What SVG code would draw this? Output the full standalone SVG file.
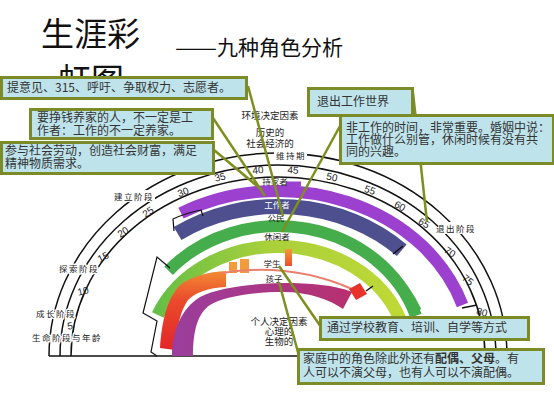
<svg xmlns="http://www.w3.org/2000/svg" width="554" height="416" viewBox="0 0 554 416">
<defs>
<style>
.box rect{fill:#bfe3eb;stroke:#7a8b27;stroke-width:3}
.bt{font-family:"Noto Sans CJK SC","Noto Sans",sans-serif;font-size:12px;fill:#333}
.arc{fill:none;stroke:#111;stroke-width:1.5}
.stage{font-family:"Noto Sans CJK SC",sans-serif;font-size:8.5px;fill:#222;letter-spacing:1.5px;text-anchor:middle;dominant-baseline:central}
.halo{paint-order:stroke;stroke:#fff;stroke-width:3px;stroke-linejoin:round}
.age{font-family:"Liberation Sans",sans-serif;font-size:10px;fill:#222;text-anchor:middle;dominant-baseline:central}
.role{font-family:"Noto Sans CJK SC",sans-serif;font-size:8.5px;fill:#222;text-anchor:middle;dominant-baseline:central}
.env{font-family:"Noto Sans CJK SC",sans-serif;font-size:9.5px;fill:#222;text-anchor:middle;dominant-baseline:central}
.conn line{stroke:#7f8f1f;stroke-width:2.5}
.band{fill:none}
.title{font-family:"Noto Sans CJK SC",sans-serif;fill:#111}
</style>
<linearGradient id="gLight" gradientUnits="userSpaceOnUse" x1="150" y1="0" x2="410" y2="0">
<stop offset="0" stop-color="#62bd47"/><stop offset="0.45" stop-color="#a9d03b"/><stop offset="1" stop-color="#c0d936"/>
</linearGradient>
<linearGradient id="gMag" gradientUnits="userSpaceOnUse" x1="172" y1="0" x2="352" y2="0">
<stop offset="0" stop-color="#9a3e9e"/><stop offset="1" stop-color="#b8306f"/>
</linearGradient>
<linearGradient id="gRed" gradientUnits="userSpaceOnUse" x1="0" y1="350" x2="0" y2="268">
<stop offset="0" stop-color="#e3262a"/><stop offset="0.6" stop-color="#ea4a2c"/><stop offset="1" stop-color="#f29034"/>
</linearGradient>
<linearGradient id="gBlk" x1="0" y1="1" x2="0" y2="0">
<stop offset="0" stop-color="#ea4f2a"/><stop offset="1" stop-color="#f39a3a"/>
</linearGradient>
</defs>

<!-- title -->
<g id="title">
<text class="title" x="41" y="46" font-size="33">生涯彩</text>
<text class="title" x="58" y="92" font-size="33">虹图</text>
<text class="title" x="175" y="55" font-size="21" textLength="42" lengthAdjust="spacingAndGlyphs">——</text>
<text class="title" x="217" y="55" font-size="21">九种角色分析</text>
</g>

<!-- outer stage/age arcs -->
<g id="stage-arcs">
<path class="arc" d="M49,356 A229,203 0 0 1 507,356"/>
<path class="arc" d="M60,356 A218,191 0 0 1 496,356"/>
<path class="arc" d="M71,356 A207,179 0 0 1 485,356"/>
<line x1="49" y1="356" x2="507" y2="356" stroke="#111" stroke-width="1.5"/>
</g>

<!-- bands -->
<g id="band-homemaker">
<path class="band" d="M181,213.1 A194,165 0 0 1 462.5,305" stroke="#9c40cf" stroke-width="12"/>
<path d="M286,186 L286,181.5 L301,181.5 L301,186 Z" fill="#9c40cf"/>
<line x1="462" y1="308" x2="477" y2="305" stroke="#111" stroke-width="1.5"/>
</g>
<g id="band-worker">
<path class="band" d="M177.6,233.5 A175,149.5 0 0 1 401.7,250.3" stroke="#4d4f8f" stroke-width="15"/>
<path d="M174,231 L173,219 Q186,213 201,210 L203,216" fill="none" stroke="#111" stroke-width="1.2"/>
<line x1="393" y1="254" x2="403" y2="246" stroke="#111" stroke-width="1.5"/>
</g>
<g id="band-citizen">
<path class="band" d="M168.6,270.7 A145,130 0 0 1 415.9,315.8" stroke="#45ad4b" stroke-width="12"/>
<path class="band" d="M389,269 A150,135 0 0 1 419,310" stroke="#45ad4b" stroke-width="5"/>
<path d="M170,268 L157,257 L143,313 L157,321 L151,352 L157,356" fill="none" stroke="#111" stroke-width="1.2"/>
</g>
<g id="band-leisure">
<path class="band" d="M157.9,315 A129.5,109.5 0 0 1 399.7,318.5" stroke="url(#gLight)" stroke-width="13"/>
</g>
<g id="band-student">
<path d="M160,348 C162,318 168,298 180,285 C192,276 208,272 226,271 L226,287 C208,288 196,292 188,300 C181,310 177,325 175,350 Z" fill="url(#gRed)"/>
<rect x="229" y="262" width="8" height="11" fill="#f39a3a"/>
<rect x="240" y="259" width="9" height="14" fill="#f39a3a"/>
<rect x="285" y="249" width="7" height="17" fill="url(#gBlk)"/>
<path d="M222,273 Q290,262 352,289" fill="none" stroke="#e9806e" stroke-width="2"/>
<path d="M349,289 L360,283 L367,294 L356,300 Z" fill="#e8332b"/>
<line x1="366" y1="291" x2="373" y2="286" stroke="#111" stroke-width="1.5"/>
</g>
<g id="band-child">
<path d="M172,356 C172,330 182,308 200,297 C220,287 250,284 283,283 C310,283 335,285 352,292 L343,309 C330,300 310,292 283,292 C255,292 225,296 210,305 C198,313 193,330 193,356 Z" fill="url(#gMag)"/>
</g>

<!-- stage labels -->
<g id="stage-labels">
<rect x="113" y="190" width="42" height="12" fill="#fff"/>
<text class="stage" x="134" y="196">建立阶段</text>
<text class="stage halo" x="79" y="268">探索阶段</text>
<text class="stage halo" x="56" y="313">成长阶段</text>
<text class="stage halo" x="67" y="337">生命阶段与年龄</text>
<rect x="274" y="149" width="33" height="12" fill="#fff"/>
<text class="stage" x="291" y="155" letter-spacing="0">维持期</text>
<rect x="438" y="222" width="36" height="12" fill="#fff"/>
<text class="stage" x="456" y="228" letter-spacing="0.5">退出阶段</text>
</g>

<!-- ages -->
<g id="ages">
<text class="age" x="70" y="326" transform="rotate(-8 70 326)">5</text>
<text class="age" x="83" y="291" transform="rotate(-15 83 291)">10</text>
<text class="age" x="103" y="257" transform="rotate(-28 103 257)">15</text>
<text class="age" x="123" y="232" transform="rotate(-32 123 232)">20</text>
<text class="age" x="148" y="212" transform="rotate(-35 148 212)">25</text>
<text class="age" x="183" y="192" transform="rotate(-20 183 192)">30</text>
<text class="age" x="220" y="177" transform="rotate(-14 220 177)">35</text>
<text class="age" x="258" y="170" transform="rotate(-5 258 170)">40</text>
<text class="age" x="293" y="170" transform="rotate(4 293 170)">45</text>
<text class="age" x="332" y="177" transform="rotate(12 332 177)">50</text>
<text class="age" x="370" y="190" transform="rotate(20 370 190)">55</text>
<text class="age" x="400" y="206" transform="rotate(28 400 206)">60</text>
<text class="age" x="424" y="223" transform="rotate(30 424 223)">65</text>
<text class="age" x="450" y="252" transform="rotate(35 450 252)">70</text>
<text class="age" x="468" y="280" transform="rotate(38 468 280)">75</text>
<text class="age" x="482" y="312" transform="rotate(15 482 312)">80</text>
</g>

<!-- role labels -->
<g id="role-labels">
<text class="role" x="275" y="181">持家者</text>
<text class="role" x="277" y="204" style="fill:#fff">工作者</text>
<text class="role" x="276" y="217">公民</text>
<text class="role" x="277" y="236">休闲者</text>
<text class="role" x="272" y="263">学生</text>
<text class="role" x="274" y="278">孩子</text>
</g>

<g id="env-labels">
<text class="env" x="270" y="115">环境决定因素</text>
<text class="env" x="270" y="132">历史的</text>
<text class="env" x="270" y="143">社会经济的</text>
<text class="env" x="279" y="321">个人决定因素</text>
<text class="env" x="279" y="331">心理的</text>
<text class="env" x="279" y="341">生物的</text>
</g>

<!-- connectors -->
<g id="connectors" class="conn">
<line x1="248" y1="86" x2="283" y2="216"/>
<line x1="213" y1="118" x2="265" y2="196"/>
<line x1="214" y1="150" x2="262" y2="190"/>
<line x1="340" y1="126" x2="282" y2="232"/>
<line x1="413" y1="93" x2="427" y2="222"/>
<line x1="279" y1="266" x2="321" y2="327"/>
<line x1="279" y1="282" x2="299" y2="356"/>
</g>

<!-- boxes -->
<g id="box-citizen" class="box">
<rect x="1.5" y="77.5" width="245" height="21"/>
<text class="bt" x="7" y="92">提意见、315、呼吁、争取权力、志愿者。</text>
</g>
<g id="box-homemaker" class="box">
<rect x="30.5" y="109.5" width="182" height="29"/>
<text class="bt" x="37" y="122">要挣钱养家的人，不一定是工</text>
<text class="bt" x="37" y="135">作者：工作的不一定养家。</text>
</g>
<g id="box-worker" class="box">
<rect x="1.5" y="142.5" width="212" height="31"/>
<text class="bt" x="5" y="155">参与社会劳动，创造社会财富，满足</text>
<text class="bt" x="5" y="168">精神物质需求。</text>
</g>
<g id="box-exit" class="box">
<rect x="308.5" y="88.5" width="104" height="27"/>
<text class="bt" x="317" y="106" font-size="13">退出工作世界</text>
</g>
<g id="box-leisure" class="box">
<rect x="340.5" y="115.5" width="213" height="48"/>
<text class="bt" x="346" y="132">非工作的时间，非常重要。婚姻中说：</text>
<text class="bt" x="346" y="144">工作做什么别管，休闲时候有没有共</text>
<text class="bt" x="346" y="156">同的兴趣。</text>
</g>
<g id="box-student" class="box">
<rect x="320.5" y="317.5" width="208" height="22"/>
<text class="bt" x="327" y="332">通过学校教育、培训、自学等方式</text>
</g>
<g id="box-child" class="box">
<rect x="298.5" y="349.5" width="245" height="34"/>
<text class="bt" x="303" y="363">家庭中的角色除此外还有<tspan font-weight="bold">配偶、父母</tspan>。有</text>
<text class="bt" x="303" y="377">人可以不演父母，也有人可以不演配偶。</text>
</g>
</svg>
